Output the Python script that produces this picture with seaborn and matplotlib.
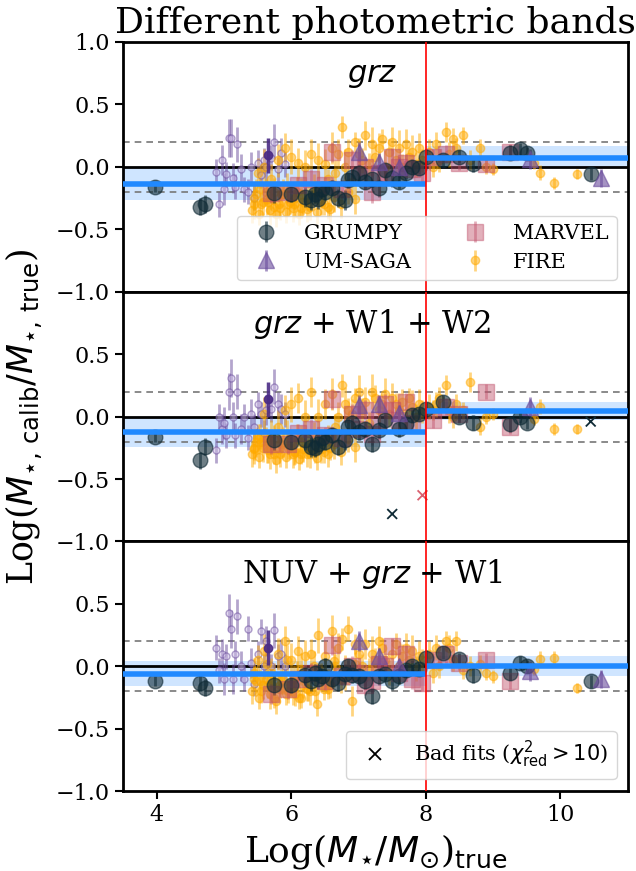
import numpy as np
import matplotlib
matplotlib.use("Agg")
import matplotlib.pyplot as plt
import seaborn as sns
import pandas as pd
from matplotlib.lines import Line2D

nan = np.nan

# ---------------- data ----------------
panel_labels = ["$grz$", "$grz$ + W1 + W2", "NUV + $grz$ + W1"]

grumpy_x = [3.97, 4.65, 4.72, 5.75, 6.0, 6.2, 6.3, 6.35, 6.4, 6.45, 6.5, 6.6, 6.7, 6.8, 6.85, 6.9, 7.0,
            7.1, 7.2, 7.3, 7.4, 7.5, 7.6, 7.7, 7.8, 7.9, 8.0, 8.25, 8.5, 8.7, 9.25, 9.4, 9.5, 10.45]
grumpy_y_grz = [-0.16, -0.32, -0.30, -0.21, -0.22, -0.24, -0.27, -0.22, -0.26, -0.18, -0.20, -0.17, -0.25,
                -0.27, -0.11, -0.08, -0.05, -0.12, -0.10, -0.17, -0.03, -0.09, -0.12, -0.05, 0.0, -0.01,
                0.08, 0.05, 0.08, 0.02, 0.11, 0.14, 0.11, -0.06]
grumpy_y_w1w2 = [-0.16, -0.35, -0.24, -0.19, -0.20, -0.19, -0.24, -0.25, -0.22, -0.17, -0.20, -0.15, -0.24,
                 -0.19, -0.08, -0.05, -0.12, -0.10, -0.22, -0.11, -0.03, nan, -0.10, -0.06, 0.01, 0.02,
                 0.06, 0.12, 0.0, -0.05, -0.06, 0.0, -0.05, nan]
grumpy_y_nuv = [-0.12, -0.13, -0.17, -0.15, -0.15, -0.07, -0.12, -0.05, -0.10, -0.08, 0.0, -0.10, -0.13,
                -0.06, 0.0, -0.07, -0.08, -0.12, -0.24, -0.08, -0.06, -0.12, -0.08, -0.03, 0.0, -0.02,
                0.07, 0.11, 0.06, -0.07, -0.05, 0.03, 0.0, -0.12]
grumpy_err = [0.04, 0.07, 0.07, 0.08, 0.06, 0.08, 0.08, 0.07, 0.08, 0.06, 0.07, 0.06, 0.07, 0.08, 0.06,
              0.06, 0.07, 0.06, 0.06, 0.07, 0.05, 0.07, 0.06, 0.05, 0.05, 0.05, 0.06, 0.05, 0.05, 0.06,
              0.06, 0.05, 0.05, 0.05]

umsaga_x = [7.0, 7.3, 7.6, 9.55, 10.6]
umsaga_y_grz = [0.12, 0.04, 0.0, 0.06, -0.09]
umsaga_y_w1w2 = [0.09, 0.10, 0.03, 0.08, nan]
umsaga_y_nuv = [0.20, 0.08, 0.0, -0.04, -0.10]
umsaga_err = [0.08, 0.07, 0.06, 0.08, 0.07]

umlow_x = [4.88, 4.93, 4.97, 5.0, 5.03, 5.07, 5.1, 5.13, 5.17, 5.2, 5.25, 5.3, 5.35, 5.4, 5.45, 5.5,
           5.55, 5.6, 5.63, 5.7, 5.75, 5.8, 5.85, 5.9]
umlow_y_grz = [-0.04, -0.30, 0.05, -0.18, -0.06, 0.23, 0.23, -0.09, -0.16, 0.18, -0.02, -0.18, -0.20,
               0.0, -0.25, 0.03, -0.07, 0.05, 0.0, 0.07, 0.20, -0.02, 0.11, 0.02]
umlow_y_w1w2 = [-0.27, 0.0, -0.10, -0.05, -0.15, 0.20, 0.31, 0.0, -0.15, 0.20, -0.10, 0.0, -0.17, 0.02,
                -0.08, 0.10, 0.02, -0.13, 0.05, 0.06, 0.24, 0.10, 0.06, 0.02]
umlow_y_nuv = [0.15, -0.03, 0.10, -0.10, 0.08, 0.43, 0.30, -0.10, 0.10, 0.40, 0.0, -0.10, 0.30, 0.03,
               -0.14, 0.10, 0.28, 0.0, 0.20, 0.0, 0.29, 0.08, 0.10, 0.0]
umlow_err = [0.10, 0.10, 0.12, 0.13, 0.10, 0.15, 0.15, 0.12, 0.10, 0.14, 0.12, 0.10, 0.10, 0.12, 0.10,
             0.10, 0.10, 0.10, 0.12, 0.10, 0.14, 0.10, 0.12, 0.10]

special_x = [5.65]
special_y_grz = [0.09]
special_y_w1w2 = [0.14]
special_y_nuv = [0.15]
special_err = [0.14]

marvel_x = [5.7, 5.95, 6.1, 6.3, 6.5, 6.6, 6.75, 6.9, 7.0, 7.1, 7.2, 7.3, 7.4, 7.5, 7.6, 7.7, 7.8, 7.95,
            8.1, 8.3, 8.5, 8.9, 9.25]
marvel_y_grz = [-0.21, -0.20, -0.15, -0.10, -0.15, 0.12, -0.18, 0.05, -0.08, 0.0, -0.20, -0.05, -0.05,
                0.08, 0.0, 0.03, -0.02, -0.05, 0.08, 0.10, 0.03, 0.02, 0.12]
marvel_y_w1w2 = [-0.22, -0.22, -0.13, -0.10, -0.15, 0.14, -0.17, 0.02, -0.10, 0.05, -0.14, -0.03, 0.10,
                 0.05, -0.03, 0.12, -0.05, nan, -0.03, 0.08, 0.02, 0.20, -0.08]
marvel_y_nuv = [-0.22, -0.18, -0.10, -0.05, -0.12, 0.17, -0.08, 0.0, -0.05, -0.15, -0.12, 0.02, 0.0,
                0.16, -0.05, 0.10, -0.10, -0.13, 0.05, 0.10, 0.03, 0.05, -0.12]
marvel_err = [0.08, 0.08, 0.07, 0.08, 0.07, 0.08, 0.07, 0.08, 0.07, 0.08, 0.09, 0.07, 0.08, 0.07, 0.08,
              0.07, 0.08, 0.07, 0.06, 0.07, 0.06, 0.06, 0.06]

fire_x = [5.45, 5.5, 5.55, 5.6, 5.65, 5.7, 5.75, 5.8, 5.85, 5.9, 5.95, 6.0, 6.05, 6.1, 6.15, 6.2, 6.25,
          6.3, 6.35, 6.4, 6.45, 6.5, 6.55, 6.6, 6.65, 6.7, 6.75, 6.8, 6.85, 6.9, 6.95, 7.0, 7.05, 7.1,
          7.15, 7.2, 7.25, 7.3, 7.35, 7.4, 7.45, 7.5, 7.55, 7.6, 7.65, 7.7, 7.75, 7.8, 7.85, 7.9, 7.95,
          8.05, 8.1, 8.15, 8.2, 8.3, 8.35, 8.4, 8.45, 8.55, 8.65, 8.8, 8.9, 9.0, 9.6, 9.7, 9.9, 10.25,
          5.42, 5.48, 5.52, 5.58, 5.62, 5.68, 5.72, 5.78, 5.82, 5.88, 5.92, 5.98, 6.02, 6.08, 6.12, 6.18,
          6.28, 6.38, 6.48, 6.58,
          5.44, 5.53, 5.64, 5.74, 5.84, 5.94, 6.04, 6.14, 6.24, 6.34, 6.44, 6.54, 6.64, 6.74, 6.84, 6.94]
fire_y_grz = [-0.25, -0.05, -0.30, 0.00, -0.28, -0.10, -0.32, 0.05, -0.22, 0.15, -0.30, 0.08, -0.25,
              0.03, -0.33, 0.00, -0.25, 0.10, -0.20, 0.05, -0.22, 0.02, -0.10, 0.15, -0.05, 0.10, 0.32,
              0.00, 0.12, -0.12, 0.20, 0.10, 0.05, 0.25, 0.02, 0.18, 0.08, 0.15, 0.22, 0.00, 0.12, 0.20,
              0.05, 0.15, 0.00, 0.18, 0.08, 0.12, 0.02, 0.15, 0.05, 0.12, 0.00, 0.18, 0.05, 0.28, 0.10,
              0.22, 0.15, 0.25, 0.05, 0.15, 0.00, -0.02, 0.03, -0.05, -0.13, -0.06,
              -0.35, -0.22, -0.38, -0.28, -0.20, -0.35, -0.25, -0.38, -0.30, -0.22, -0.36, -0.28, -0.33,
              -0.20, -0.38, -0.28, -0.32, -0.36, -0.30, -0.34,
              -0.30, -0.18, -0.26, -0.20, -0.33, -0.17, -0.30, -0.22, -0.34, -0.18, -0.28, -0.32, -0.24,
              -0.30, -0.20, -0.26]
fire_y_w1w2 = [-0.25, -0.18, -0.20, 0.02, -0.27, -0.15, -0.30, -0.08, -0.22, 0.05, -0.25, 0.10, -0.28,
               0.15, -0.30, 0.00, -0.22, 0.20, -0.28, 0.00, -0.20, 0.10, -0.15, 0.18, -0.08, 0.00, 0.25,
               0.10, 0.05, 0.02, 0.15, 0.20, 0.05, 0.12, -0.05, 0.20, 0.15, 0.05, 0.10, 0.18, 0.02, 0.15,
               0.10, 0.05, 0.12, 0.03, 0.15, 0.08, 0.00, 0.10, 0.04, 0.08, 0.05, 0.10, 0.15, 0.25, 0.05,
               0.00, 0.10, 0.05, 0.28, -0.08, 0.00, 0.02, -0.02, 0.08, -0.10, -0.10,
               -0.30, -0.20, -0.32, -0.25, -0.18, -0.30, -0.22, -0.35, -0.26, -0.20, -0.32, -0.24, -0.30,
               -0.18, -0.34, -0.26, -0.30, -0.33, -0.28, -0.25,
               -0.26, -0.16, -0.24, -0.18, -0.30, -0.15, -0.28, -0.20, -0.30, -0.16, -0.26, -0.30, -0.22,
               -0.28, -0.18, -0.24]
fire_y_nuv = [-0.10, 0.05, -0.20, 0.12, -0.15, -0.05, -0.25, 0.10, -0.12, 0.20, -0.20, 0.05, -0.22,
              0.12, -0.25, 0.08, -0.18, 0.10, -0.20, 0.25, -0.10, 0.08, -0.18, 0.28, 0.00, 0.15, 0.22,
              -0.05, 0.30, -0.28, 0.18, 0.10, 0.00, 0.18, -0.02, 0.10, 0.05, 0.20, 0.15, 0.05, -0.05,
              0.10, 0.18, 0.00, 0.08, 0.15, 0.05, 0.12, -0.02, 0.08, 0.05, 0.10, -0.05, 0.15, 0.00, 0.20,
              0.15, 0.05, 0.20, -0.03, 0.00, 0.02, -0.05, -0.08, -0.02, 0.06, 0.07, -0.17,
              -0.20, -0.12, -0.25, -0.15, -0.10, -0.22, -0.15, -0.28, -0.18, -0.10, -0.22, -0.15, -0.20,
              -0.08, -0.25, -0.15, -0.20, -0.30, -0.18, -0.15,
              -0.05, -0.12, 0.02, -0.08, -0.15, 0.05, -0.10, -0.02, -0.18, 0.00, -0.08, -0.12, 0.04,
              -0.10, -0.05, 0.02]
fire_err = [0.10, 0.12, 0.09, 0.14, 0.10, 0.12, 0.08, 0.13, 0.10, 0.12, 0.09, 0.14, 0.10, 0.12, 0.08,
            0.13, 0.10, 0.12, 0.09, 0.14, 0.10, 0.12, 0.08, 0.13, 0.10, 0.12, 0.09, 0.14, 0.10, 0.12,
            0.08, 0.13, 0.10, 0.12, 0.09, 0.14, 0.10, 0.12, 0.08, 0.13, 0.10, 0.12, 0.09, 0.14, 0.10,
            0.12, 0.08, 0.13, 0.10, 0.12, 0.09, 0.10, 0.08, 0.10, 0.09, 0.08, 0.10, 0.09, 0.08, 0.07,
            0.08, 0.07, 0.06, 0.05, 0.05, 0.06, 0.05, 0.04,
            0.10, 0.12, 0.09, 0.11, 0.10, 0.12, 0.09, 0.10, 0.11, 0.12, 0.09, 0.10, 0.11, 0.12, 0.09,
            0.10, 0.11, 0.10, 0.09, 0.10,
            0.12, 0.10, 0.13, 0.11, 0.10, 0.12, 0.11, 0.13, 0.10, 0.12, 0.11, 0.10, 0.12, 0.11, 0.10,
            0.12]

badfit_x_w1w2 = [7.5, 7.95, 10.45]
badfit_y_w1w2 = [-0.78, -0.63, -0.04]
badfit_src_w1w2 = ["GRUMPY", "MARVEL", "GRUMPY"]

# mean offsets and scatter bands below / above log M = 8
mean_low = [-0.135, -0.12, -0.06]
mean_high = [0.07, 0.046, 0.006]
band_low_lo = [-0.27, -0.24, -0.16]
band_low_hi = [-0.005, -0.01, 0.04]
band_high_lo = [0.0, -0.03, -0.075]
band_high_hi = [0.164, 0.12, 0.086]

# ---------------- style ----------------
sns.set_theme(style="ticks")
plt.rcParams["font.family"] = ["DejaVu Serif"]
plt.rcParams["mathtext.fontset"] = "dejavusans"
plt.rcParams["axes.linewidth"] = 2.0
for k in ["text.color", "axes.labelcolor", "xtick.color", "ytick.color", "axes.edgecolor"]:
    plt.rcParams[k] = "black"

c_grumpy = "#0f2a35"
c_umsaga = "#6a4c9c"
c_marvel = "#c0506a"
c_fire = "#ffaa00"
c_special = "#4b2c85"
c_mean = "#2089ff"
c_band = "#cfe5ff"

fig, axes = plt.subplots(3, 1, figsize=(6.36, 8.71), dpi=100, sharex=True)
fig.subplots_adjust(left=0.1934, right=0.987, top=0.952, bottom=0.0915, hspace=0)

sets = [
    (grumpy_y_grz, umsaga_y_grz, umlow_y_grz, special_y_grz, marvel_y_grz, fire_y_grz),
    (grumpy_y_w1w2, umsaga_y_w1w2, umlow_y_w1w2, special_y_w1w2, marvel_y_w1w2, fire_y_w1w2),
    (grumpy_y_nuv, umsaga_y_nuv, umlow_y_nuv, special_y_nuv, marvel_y_nuv, fire_y_nuv),
]

for i, ax in enumerate(axes):
    gy, uy, ly, sy, my, fy = sets[i]
    ax.set_xlim(3.5, 11)
    ax.set_ylim(-1, 1)
    ax.fill_between([3.5, 8.0], [band_low_lo[i]] * 2, [band_low_hi[i]] * 2, color=c_band, lw=0, zorder=0)
    ax.fill_between([8.0, 11], [band_high_lo[i]] * 2, [band_high_hi[i]] * 2, color=c_band, lw=0, zorder=0)
    ax.axhline(0, color="black", lw=2, zorder=1)
    for yv in (0.2, -0.2):
        ax.axhline(yv, color="#777777", lw=1.2, ls=(0, (4, 3)), zorder=1)

    ax.errorbar(umlow_x, ly, yerr=umlow_err, fmt="o", ms=5, mfc="#c9b8e3", mec=c_umsaga, mew=1,
                ecolor=c_umsaga, elinewidth=2, alpha=0.5, zorder=2)
    ax.errorbar(special_x, sy, yerr=special_err, fmt="o", ms=6, color=c_special, elinewidth=2.5,
                alpha=0.9, zorder=3)
    h_fire = ax.errorbar(fire_x, fy, yerr=fire_err, fmt="o", ms=6, color=c_fire, elinewidth=2,
                         alpha=0.5, zorder=2, label="FIRE")
    h_marvel = ax.errorbar(marvel_x, my, yerr=marvel_err, fmt="s", ms=11, color=c_marvel,
                           elinewidth=2, alpha=0.45, zorder=3, label="MARVEL")
    h_grumpy = ax.errorbar(grumpy_x, gy, yerr=grumpy_err, fmt="o", ms=10.5, color=c_grumpy,
                           elinewidth=2, alpha=0.6, zorder=3, label="GRUMPY")
    h_umsaga = ax.errorbar(umsaga_x, uy, yerr=umsaga_err, fmt="^", ms=11, color=c_umsaga,
                           elinewidth=2, alpha=0.6, zorder=3, label="UM-SAGA")

    ax.plot([3.5, 8.0], [mean_low[i]] * 2, color=c_mean, lw=4, zorder=5, solid_capstyle="butt")
    ax.plot([8.0, 11], [mean_high[i]] * 2, color=c_mean, lw=4, zorder=5, solid_capstyle="butt")
    ax.axvline(8.0, color="red", lw=1.2, zorder=6)

    ax.text(0.494, 0.87, panel_labels[i], transform=ax.transAxes, ha="center", va="center",
            fontsize=22, zorder=7)
    if i == 0:
        ax.set_yticks([-1, -0.5, 0, 0.5, 1])
    else:
        ax.set_yticks([-1, -0.5, 0, 0.5])
    ax.tick_params(axis="both", labelsize=16, width=1.5, length=6, direction="out")
    if i < 2:
        ax.tick_params(axis="x", bottom=False, labelbottom=False)
    if i == 0:
        leg = ax.legend([h_grumpy, h_umsaga, h_marvel, h_fire], ["GRUMPY", "UM-SAGA", "MARVEL", "FIRE"],
                        ncol=2, loc="lower right", bbox_to_anchor=(0.978, 0.047), borderaxespad=0,
                        fontsize=15, framealpha=0.8, handletextpad=0.8, columnspacing=2.1,
                        labelspacing=0.45)
        leg.set_zorder(8)
    if i == 1:
        bdf = pd.DataFrame({"x": badfit_x_w1w2, "y": badfit_y_w1w2, "src": badfit_src_w1w2})
        sns.scatterplot(data=bdf, x="x", y="y", hue="src", marker="x", s=50, linewidth=1.3,
                        palette={"GRUMPY": c_grumpy, "MARVEL": "#d9606f"}, legend=False, ax=ax,
                        zorder=4)
        ax.set_xlabel("")
        ax.set_ylabel("Log($M_{\\star,\\,\\rm calib}/M_{\\star,\\,\\rm true}$)", fontsize=25, labelpad=8)
    if i == 2:
        hx = Line2D([], [], ls="none", marker="x", color="black", ms=8, mew=1.3)
        leg2 = ax.legend([hx], ["Bad fits ($\\chi^2_{\\rm red} > 10$)"], loc="lower right",
                         bbox_to_anchor=(0.978, 0.05), borderaxespad=0, fontsize=15, framealpha=0.8,
                         handletextpad=0.9)
        leg2.set_zorder(8)
        ax.set_xticks([4, 6, 8, 10])
        ax.set_xlabel("Log($M_{\\star}/M_{\\odot}$)$_{\\rm true}$", fontsize=26)

axes[0].set_title("Different photometric bands", fontsize=26, pad=6)

fig.savefig("out.png", dpi=100)
